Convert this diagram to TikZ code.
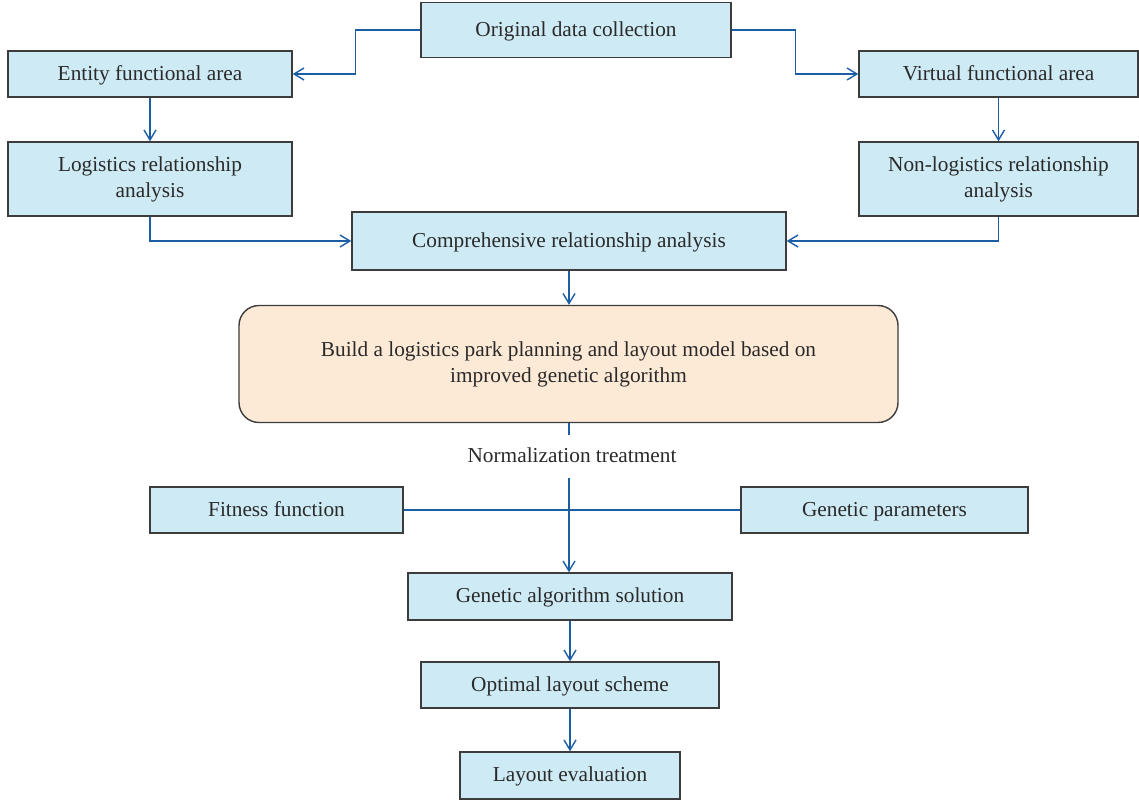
\documentclass[tikz,border=0pt]{standalone}
\usepackage{fontspec}
\setmainfont{Liberation Serif}
\usetikzlibrary{arrows.meta}
\definecolor{boxfill}{HTML}{CEEBF5}
\definecolor{boxline}{HTML}{3C3C3C}
\definecolor{orangefill}{HTML}{FDEAD6}
\definecolor{arrblue}{HTML}{1B5EA6}
\definecolor{txt}{HTML}{2A2A2A}
\begin{document}
\begin{tikzpicture}[x=1pt,y=-1pt,
  font=\fontsize{21.3}{26}\selectfont,
  boxnode/.style={draw=boxline,fill=boxfill,line width=1.4pt,inner sep=0pt,
    text=txt,align=center,anchor=center},
  onebox/.style={boxnode,text height=16.5pt,text depth=4.5pt},
  buildnode/.style={boxnode,fill=orangefill,rounded corners=20pt},
  conn/.style={draw=arrblue,line width=1.4pt},
  arr/.style={conn,-{Straight Barb[length=10pt,width=12pt,line width=1.4pt]}}]
\useasboundingbox (0,0) rectangle (1139,801);
\node[onebox,minimum width=310pt,minimum height=55pt] (orig) at (576,30) {Original data collection};
\node[onebox,minimum width=284pt,minimum height=46pt] (entity) at (150,74) {Entity functional area};
\node[onebox,minimum width=279pt,minimum height=46pt] (virtual) at (998.5,74) {Virtual functional area};
\node[boxnode,minimum width=284pt,minimum height=74pt] (logi) at (150,179) {Logistics relationship\\analysis};
\node[boxnode,minimum width=279pt,minimum height=74pt] (nonlogi) at (998.5,179) {Non-logistics relationship\\analysis};
\node[onebox,minimum width=434pt,minimum height=58pt] (comp) at (569,241) {Comprehensive relationship analysis};
\node[buildnode,minimum width=659pt,minimum height=117pt] (build) at (568.5,364) {Build a logistics park planning and layout model based on\\improved genetic algorithm};
\node[text=txt,inner sep=0pt,text height=16.5pt,text depth=4.5pt] (norm) at (572,456) {Normalization treatment};
\node[onebox,minimum width=253pt,minimum height=46pt] (fit) at (276.5,510) {Fitness function};
\node[onebox,minimum width=287pt,minimum height=46pt] (gp) at (884.5,510) {Genetic parameters};
\node[onebox,minimum width=324pt,minimum height=47pt] (ga) at (570,596.5) {Genetic algorithm solution};
\node[onebox,minimum width=298pt,minimum height=46pt] (opt) at (570,685) {Optimal layout scheme};
\node[onebox,minimum width=220pt,minimum height=47pt] (eval) at (570,775.5) {Layout evaluation};
\coordinate (b1) at (569,435);
\coordinate (b2) at (569,478);
\draw[arr] (orig.west) -- ++(-65,0) |- (entity.east);
\draw[arr] (orig.east) -- ++(64,0) |- (virtual.west);
\draw[arr] (entity.south) -- (logi.north);
\draw[arr] (virtual.south) -- (nonlogi.north);
\draw[arr] (logi.south) |- (comp.west);
\draw[arr] (nonlogi.south) |- (comp.east);
\draw[arr] (comp.south) -- (comp.south |- build.north);
\draw[conn] (build.south -| b1) -- (b1);
\draw[conn] (fit.east) -- (gp.west);
\draw[arr] (b2) -- (b2 |- ga.north);
\draw[arr] (ga.south) -- (opt.north);
\draw[arr] (opt.south) -- (eval.north);
\end{tikzpicture}
\end{document}
